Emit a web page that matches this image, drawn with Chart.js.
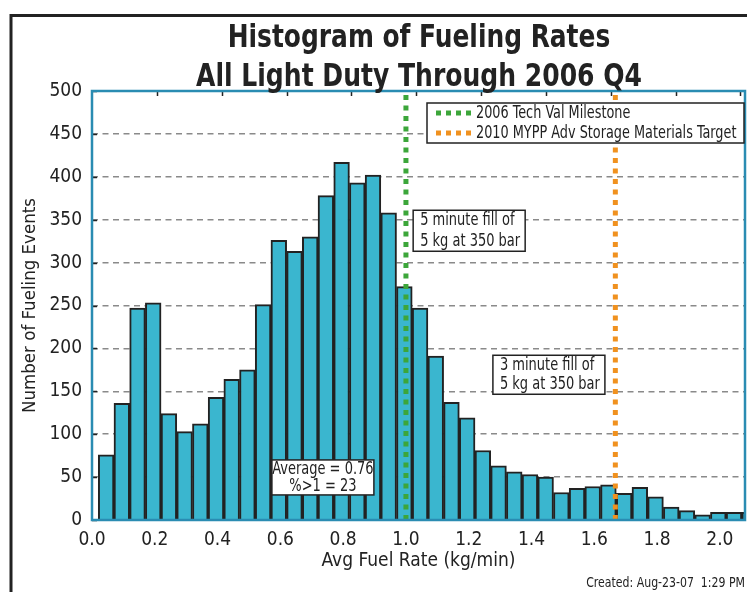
<!DOCTYPE html>
<html>
<head>
<meta charset="utf-8">
<script src="https://cdn.jsdelivr.net/npm/chart.js@4.4.0/dist/chart.umd.min.js"></script>
<style>
  html, body { margin: 0; padding: 0; background: #fff; }
  #wrap { width: 747px; height: 592px; }
</style>
</head>
<body>
<div id="wrap"><canvas id="hist" width="747" height="592"></canvas></div>
<script>
/* ---------- DATA ---------- */
// bin centres (kg/min), 0.05 wide bins
const binCenters = [
  0.045, 0.095, 0.145, 0.195, 0.245, 0.295, 0.345, 0.395, 0.445, 0.495,
  0.545, 0.595, 0.645, 0.695, 0.745, 0.795, 0.845, 0.895, 0.945, 0.995,
  1.045, 1.095, 1.145, 1.195, 1.245, 1.295, 1.345, 1.395, 1.445, 1.495,
  1.545, 1.595, 1.645, 1.695, 1.745, 1.795, 1.845, 1.895, 1.945, 1.995,
  2.045, 2.095
];
const eventCounts = [
  76, 136, 247, 253, 124, 103, 112, 143, 164, 175,
  251, 326, 313, 330, 378, 417, 393, 402, 358, 272,
  247, 191, 137, 119, 81, 63, 56, 53, 50, 32,
  37, 39, 41, 31, 38, 27, 15, 11, 6, 9,
  9, 9
];
const xTickValues = [0, 0.2, 0.4, 0.6, 0.8, 1.0, 1.2, 1.4, 1.6, 1.8, 2.0];
const topTickValues = [0.2, 0.4, 0.6, 0.8, 1.0, 1.2, 1.4, 1.6, 1.8, 2.0];
const refLabels = ["2006 Tech Val Milestone", "2010 MYPP Adv Storage Materials Target"];
const refRates = [1.0, 1.667];
const titleLines = ["Histogram of Fueling Rates", "All Light Duty Through 2006 Q4"];
const fiveMinNote = ["5 minute fill of", "5 kg at 350 bar"];
const threeMinNote = ["3 minute fill of", "5 kg at 350 bar"];
const statsNote = ["Average = 0.76", "%>1 = 23"];
const createdStamp = "Created: Aug-23-07  1:29 PM";

/* ---------- STYLE ---------- */
const FONT = '"DejaVu Sans Condensed", "Liberation Sans Narrow", sans-serif';
const INK = "#222";
const BAR = "#3ab6cf";
const FRAME = "#2a8cb2";
const GREEN = "#3ca63a";
const ORANGE = "#f0911f";
const Y_MAX = 500;

/* ---------- DECOR PLUGIN ---------- */
// draw text squeezed horizontally, the original uses a condensed face
function narrowText(ctx, text, x, y, squeeze) {
  ctx.save();
  ctx.translate(x, y);
  ctx.scale(squeeze, 1);
  ctx.fillText(text, 0, 0);
  ctx.restore();
}

function noteBox(ctx, lines, x, y, w, h, centered) {
  ctx.fillStyle = "#fff";
  ctx.fillRect(x, y, w, h);
  ctx.strokeStyle = INK;
  ctx.lineWidth = 1.5;
  ctx.setLineDash([]);
  ctx.strokeRect(x, y, w, h);
  ctx.fillStyle = INK;
  ctx.font = `17px ${FONT}`;
  ctx.textBaseline = "middle";
  ctx.textAlign = centered ? "center" : "left";
  const lh = h / lines.length;
  lines.forEach((t, i) => {
    narrowText(ctx, t, centered ? x + w / 2 : x + 7, y + lh * (i + 0.5) + 0.5, 0.85);
  });
}

const figureDecor = {
  id: "figureDecor",
  beforeDraw(c) {
    const ctx = c.ctx;
    ctx.save();
    ctx.fillStyle = "#fff";
    ctx.fillRect(0, 0, c.width, c.height);
    ctx.restore();
  },
  afterDatasetsDraw(c) {
    const { ctx, chartArea: a, scales } = c;
    ctx.save();
    // inward ticks
    ctx.strokeStyle = INK;
    ctx.lineWidth = 1.5;
    scales.y.ticks.forEach(t => {
      const py = Math.round(scales.y.getPixelForValue(t.value)) + 0.5;
      ctx.beginPath(); ctx.moveTo(a.left, py); ctx.lineTo(a.left + 5, py); ctx.stroke();
    });
    topTickValues.forEach(v => {
      const px = Math.round(scales.x2.getPixelForValue(v)) + 0.5;
      ctx.beginPath(); ctx.moveTo(px, a.top); ctx.lineTo(px, a.top + 5); ctx.stroke();
    });
    // axes frame
    ctx.strokeStyle = FRAME;
    ctx.lineWidth = 2.5;
    ctx.strokeRect(a.left, a.top, a.right - a.left, a.bottom - a.top);
    ctx.restore();
  },
  afterDraw(c) {
    const { ctx, chartArea: a, scales } = c;
    const xs = scales.x, ys = scales.y;
    ctx.save();

    // figure border
    ctx.strokeStyle = INK;
    ctx.lineWidth = 3;
    ctx.beginPath();
    ctx.moveTo(11, c.height); ctx.lineTo(11, 15.5); ctx.lineTo(c.width, 15.5);
    ctx.stroke();

    // title
    ctx.fillStyle = INK;
    ctx.textAlign = "center";
    ctx.textBaseline = "alphabetic";
    ctx.font = `bold 32px ${FONT}`;
    narrowText(ctx, titleLines[0], 419, 47, 0.865);
    narrowText(ctx, titleLines[1], 419, 86, 0.87);

    // legend
    const lx = a.right - 318, ly = a.top + 12, lw = 317, lh = 40;
    ctx.fillStyle = "#fff";
    ctx.fillRect(lx, ly, lw, lh);
    ctx.strokeStyle = INK;
    ctx.lineWidth = 1.5;
    ctx.strokeRect(lx, ly, lw, lh);
    [GREEN, ORANGE].forEach((col, i) => {
      const cy = ly + 10 + i * 20;
      ctx.strokeStyle = col;
      ctx.lineWidth = 5;
      ctx.setLineDash([5, 5]);
      ctx.beginPath(); ctx.moveTo(lx + 9, cy); ctx.lineTo(lx + 46, cy); ctx.stroke();
      ctx.setLineDash([]);
      ctx.fillStyle = INK;
      ctx.font = `17px ${FONT}`;
      ctx.textAlign = "left";
      ctx.textBaseline = "middle";
      narrowText(ctx, refLabels[i], lx + 49, cy + 0.5, 0.84);
    });

    // notes placed in data coordinates
    noteBox(ctx, fiveMinNote, xs.getPixelForValue(1.023), ys.getPixelForValue(361), 112, 41, false);
    noteBox(ctx, threeMinNote, xs.getPixelForValue(1.277), ys.getPixelForValue(192), 112, 39, false);
    noteBox(ctx, statsNote, xs.getPixelForValue(0.573), ys.getPixelForValue(70), 102, 35, true);

    // timestamp
    ctx.fillStyle = INK;
    ctx.font = `14px ${FONT}`;
    ctx.textAlign = "right";
    ctx.textBaseline = "alphabetic";
    narrowText(ctx, createdStamp, 745, 587, 0.87);
    ctx.restore();
  }
};

/* ---------- CHART ---------- */
function refLine(i, color) {
  return {
    type: "line",
    label: refLabels[i],
    data: [{ x: refRates[i], y: 0 }, { x: refRates[i], y: Y_MAX }],
    borderColor: color,
    borderWidth: 5,
    borderDash: [5, 5.5],
    borderCapStyle: "butt",
    pointRadius: 0,
    order: i
  };
}

new Chart(document.getElementById("hist"), {
  type: "bar",
  data: {
    datasets: [
      refLine(0, GREEN),
      refLine(1, ORANGE),
      {
        label: "Fueling events",
        data: binCenters.map((x, i) => ({ x, y: eventCounts[i] })),
        backgroundColor: BAR,
        borderColor: INK,
        borderWidth: 2,
        barPercentage: 1,
        categoryPercentage: 1,
        order: 5
      }
    ]
  },
  options: {
    responsive: false,
    animation: false,
    layout: { padding: { top: 91, right: 2, left: 0, bottom: 0 } },
    plugins: { legend: { display: false }, tooltip: { enabled: false } },
    scales: {
      x: {
        type: "linear",
        offset: false,
        min: 0,
        max: 2.08,
        afterBuildTicks: s => { s.ticks = xTickValues.map(v => ({ value: v })); },
        afterFit: s => { s.height = 72; },
        grid: { display: false, offset: false },
        border: { display: false },
        ticks: {
          color: INK,
          font: { family: FONT, size: 19 },
          padding: 1,
          maxRotation: 0,
          autoSkip: false,
          callback: v => v.toFixed(1)
        },
        title: {
          display: true,
          text: "Avg Fuel Rate (kg/min)",
          color: INK,
          font: { family: FONT, size: 19 },
          padding: { top: 0, bottom: 20 }
        }
      },
      x2: {
        type: "linear",
        position: "top",
        offset: false,
        min: 0,
        max: 2.014,
        grid: { display: false },
        border: { display: false },
        ticks: { display: false },
        afterFit: s => { s.height = 0; }
      },
      y: {
        min: 0,
        max: Y_MAX,
        afterFit: s => { s.width = 92; },
        grid: { color: "#8a8a8a", lineWidth: 1.5, drawTicks: false },
        border: { display: false, dash: [6, 4.5] },
        ticks: {
          stepSize: 50,
          color: INK,
          font: { family: FONT, size: 19 },
          padding: 10
        },
        title: {
          display: true,
          text: "Number of Fueling Events",
          color: INK,
          font: { family: FONT, size: 18.5 },
          padding: { top: 19, bottom: 0 }
        }
      }
    }
  },
  plugins: [figureDecor]
});
</script>
</body>
</html>
